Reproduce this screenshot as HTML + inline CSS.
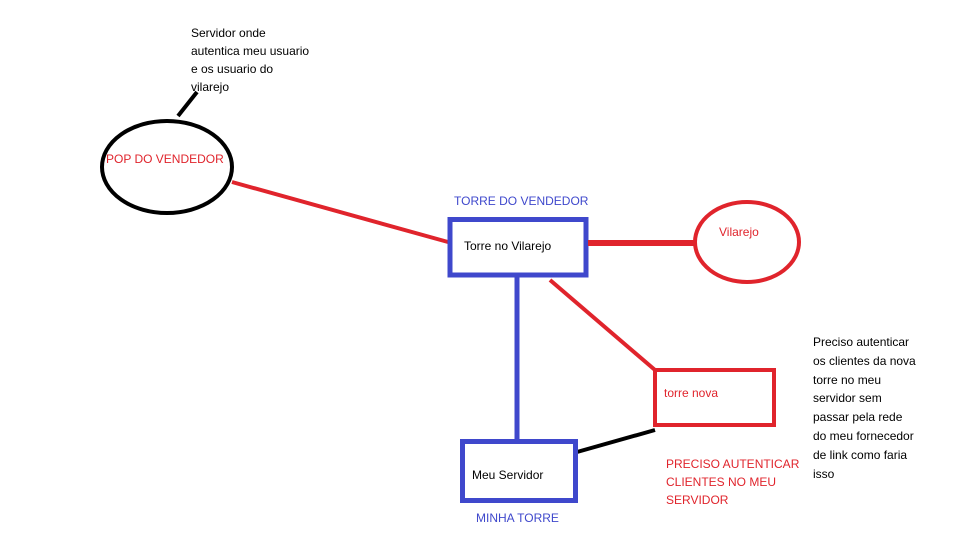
<!DOCTYPE html>
<html><head><meta charset="utf-8"><style>
body{margin:0;background:#fff;width:960px;height:540px;overflow:hidden;position:relative;font-family:"Liberation Sans",sans-serif;font-size:12px}
.t{position:absolute;white-space:nowrap;line-height:18px}
</style></head><body>
<svg width="960" height="540" style="position:absolute;left:0;top:0">
<ellipse cx="167" cy="167" rx="65" ry="46" fill="none" stroke="#000" stroke-width="4"/>
<line x1="178" y1="116" x2="197" y2="92" stroke="#000" stroke-width="4"/>
<line x1="232" y1="182" x2="448" y2="242" stroke="#e0242c" stroke-width="4"/>
<rect x="450" y="219.5" width="136" height="55.5" fill="none" stroke="#3f48cc" stroke-width="5"/>
<line x1="588" y1="243" x2="697" y2="243" stroke="#e0242c" stroke-width="6"/>
<ellipse cx="747" cy="242" rx="52" ry="40" fill="none" stroke="#e0242c" stroke-width="4"/>
<line x1="517" y1="277" x2="517" y2="440" stroke="#3f48cc" stroke-width="5"/>
<line x1="550" y1="280" x2="655" y2="370" stroke="#e0242c" stroke-width="4"/>
<rect x="655" y="370" width="119" height="55" fill="none" stroke="#e0242c" stroke-width="4"/>
<line x1="577" y1="452" x2="655" y2="430" stroke="#000" stroke-width="4"/>
<rect x="462.5" y="441.5" width="113" height="59" fill="none" stroke="#3f48cc" stroke-width="5"/>
</svg>
<div class="t" style="left:191px;top:24px;color:#000">Servidor onde<br>autentica meu usuario<br>e os usuario do<br>vilarejo</div>
<div class="t" style="left:106px;top:150px;color:#e0242c">POP DO VENDEDOR</div>
<div class="t" style="left:454px;top:192px;color:#3f48cc">TORRE DO VENDEDOR</div>
<div class="t" style="left:464px;top:237px;color:#000">Torre no Vilarejo</div>
<div class="t" style="left:719px;top:223px;color:#e0242c">Vilarejo</div>
<div class="t" style="left:664px;top:384px;color:#e0242c">torre nova</div>
<div class="t" style="left:472px;top:466px;color:#000">Meu Servidor</div>
<div class="t" style="left:476px;top:509px;color:#3f48cc">MINHA TORRE</div>
<div class="t" style="left:666px;top:455px;color:#e0242c">PRECISO AUTENTICAR<br>CLIENTES NO MEU<br>SERVIDOR</div>
<div class="t" style="left:813px;top:333px;color:#000;line-height:18.8px">Preciso autenticar<br>os clientes da nova<br>torre no meu<br>servidor sem<br>passar pela rede<br>do meu fornecedor<br>de link como faria<br>isso</div>
</body></html>
